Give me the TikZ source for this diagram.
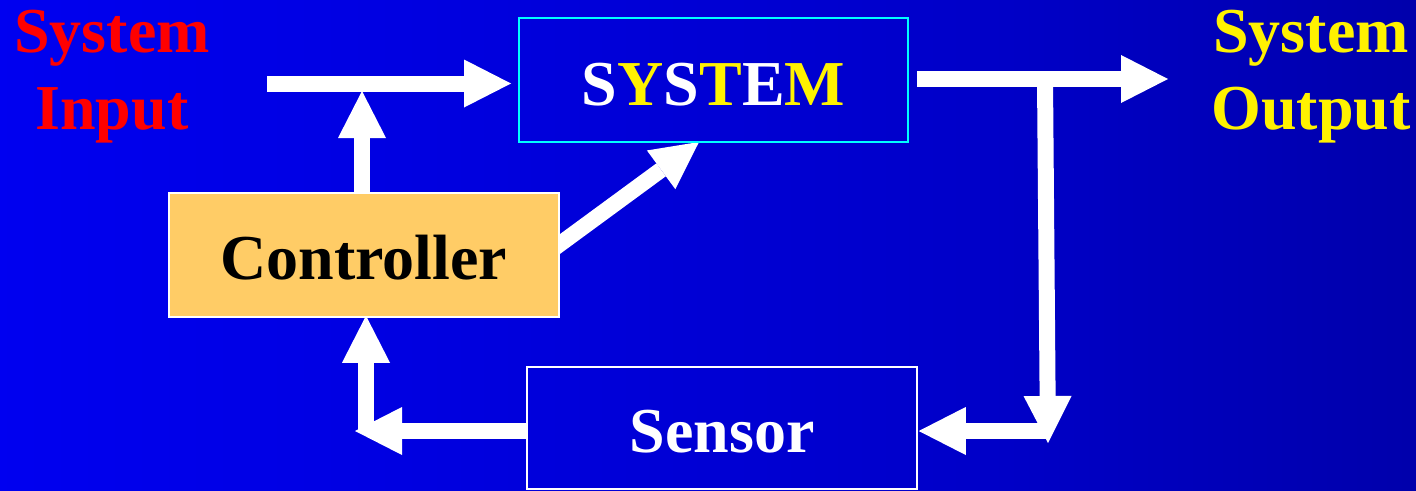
\documentclass[tikz,border=0pt]{standalone}
\usepackage{fontspec}
\setmainfont{Liberation Serif}
\usetikzlibrary{arrows.meta,calc}
\definecolor{ctrlfill}{RGB}{255,204,102}
\definecolor{bgA}{RGB}{0,0,255}
\definecolor{bgB}{RGB}{0,0,245}
\definecolor{bgC}{RGB}{0,0,224}
\definecolor{bgD}{RGB}{0,0,200}
\definecolor{bgE}{RGB}{0,0,162}
\definecolor{bgF}{RGB}{0,0,126}
\definecolor{syscyan}{RGB}{0,255,255}
\pgfdeclarehorizontalshading{bgshade}{100bp}{color(0bp)=(bgA); color(20bp)=(bgB); color(40bp)=(bgC); color(60bp)=(bgD); color(80bp)=(bgE); color(100bp)=(bgF)}
\pgfdeclarelayer{back}
\pgfdeclarelayer{mid}
\pgfsetlayers{back,mid,main}
\begin{document}
\begin{tikzpicture}[x=1pt,y=-1pt,
  big/.style={font=\fontsize{64}{77}\selectfont\bfseries},
  block/.style={draw, line width=1.5pt, minimum width=390pt, minimum height=124pt,
    inner sep=0pt, big, text height=48pt, text depth=0pt},
  fat/.style={draw=white, line width=16pt,
    -{Triangle[length=47pt 0 0, width=48pt 0 0, line width=0pt 0 0]}},
  lbl/.style={big, align=center, inner sep=0pt}
]
\begin{pgfonlayer}{back}
  \path[shading=bgshade] (0,0) rectangle (1416,490);
\end{pgfonlayer}
\useasboundingbox (0,0) rectangle (1416,490);

% blocks
\node[block, draw=syscyan, line width=2pt, minimum width=389pt, text height=50pt] (sys) at (713.5,80)
  {\textcolor{white}{S}\textcolor{yellow}{Y}\textcolor{white}{S}\textcolor{yellow}{T}\textcolor{white}{E}\textcolor{yellow}{M}};
\node[block, draw=white, fill=ctrlfill, text=black] (ctrl) at (364,255) {Controller};
\node[block, draw=white, text=white, minimum height=122pt] (sen) at (722,428) {Sensor};

% labels
\node[lbl, text=red] (inlbl) at (112,76.5) {System\\Input};
\node[lbl, text=yellow] (outlbl) at (1311,76.5) {System\\Output};

% connector points
\coordinate (inS) at (267,83.5);
\coordinate (j1) at (362,91);
\coordinate (outE) at (1168,79);
\coordinate (br) at (1045,79);
\coordinate (brE) at (1048,443);
\coordinate (fbR) at (1047,431);
\coordinate (fbL) at (355,431);
\coordinate (fbU) at (366,431);
\coordinate (diagS) at (539,259.4);

\begin{pgfonlayer}{mid}
  \draw[fat] (inS) -- ($(sys.west)+(-7,3.5)$);
  \draw[fat] ($(ctrl.north)+(-2,0)$) -- (j1);
  \draw[fat] (diagS) -- ($(sys.south)+(-14.5,-1)$);
  \draw[fat] ($(sys.east)+(8,-1)$) -- (outE);
  \draw[fat] (br) -- (brE);
  \draw[fat] (fbR) -- ($(sen.east)+(1,3)$);
  \draw[fat] ($(sen.west)+(0,3)$) -- (fbL);
  \draw[fat] (fbU) -- ($(ctrl.south)+(2,-2)$);
\end{pgfonlayer}
\end{tikzpicture}
\end{document}
